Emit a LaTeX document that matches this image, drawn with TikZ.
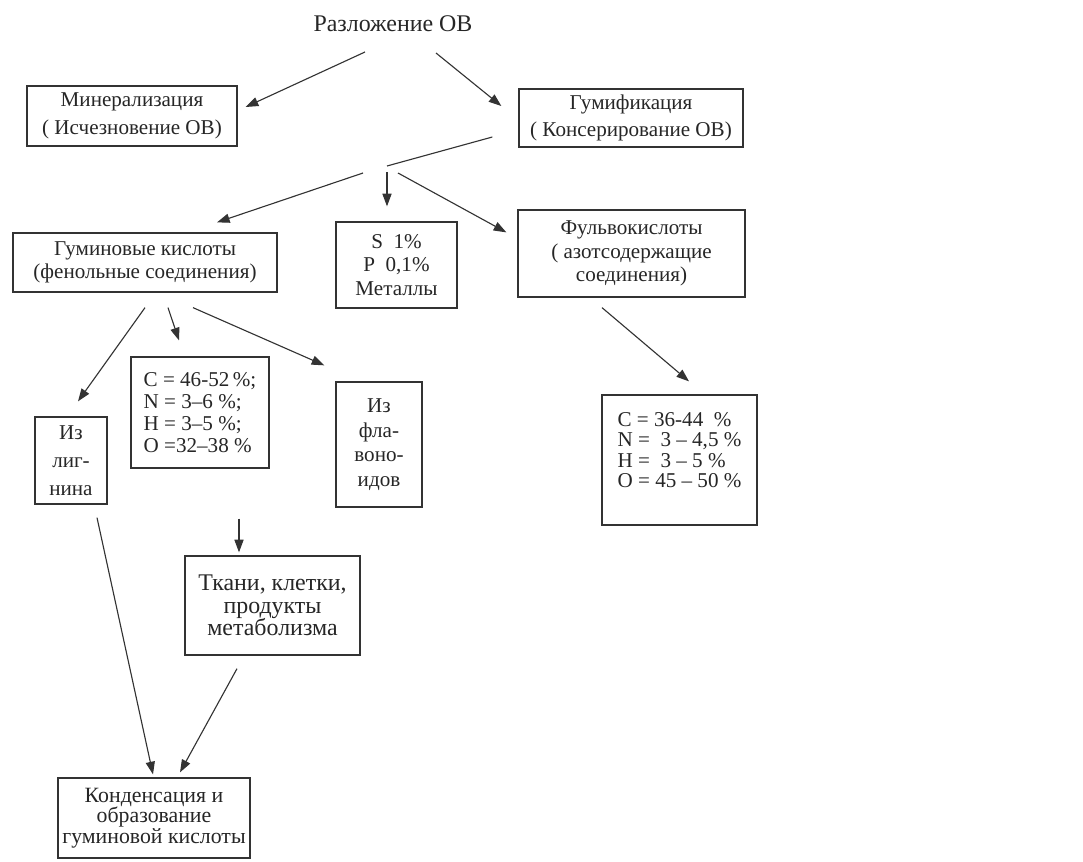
\documentclass[tikz,border=0pt]{standalone}
\usepackage{fontspec}
\setmainfont{Liberation Serif}
\usetikzlibrary{arrows.meta}

\tikzset{
	box/.style={draw=black!80, line width=0.9pt, rectangle, align=center, inner sep=0pt, text=black!85},
	arr/.style={draw=black!80, line width=0.8pt, -{Triangle[length=9pt,width=6.5pt]}},
	lnk/.style={draw=black!80, line width=0.8pt},
	txt/.style 2 args={font=\fontsize{#1}{#2}\selectfont}
}

\begin{document}
\begin{tikzpicture}[x=0.025cm, y=-0.025cm]
	\useasboundingbox (0,0) rectangle (1083,861);

	% Top level
	\node[txt={17pt}{20pt}, text=black!85, inner sep=0pt] (ttl) at (393,24) {Разложение ОВ};
	\node[box, txt={15pt}{20pt}, minimum width=5.25cm, minimum height=1.5cm] (mineral) at (132,116) {Минерализация\\( Исчезновение ОВ)};
	\node[box, txt={15pt}{19pt}, minimum width=5.6cm, minimum height=1.45cm] (humif) at (631,118) {Гумификация\\( Консерирование ОВ)};

	\draw[arr] ([shift={(-28,28)}]ttl.center) -- ([shift={(8,-9)}]mineral.east);
	\draw[arr] ([shift={(43,29)}]ttl.center) -- ([shift={(-17,-12)}]humif.west);

	% Products of humification
	\coordinate (fork) at (387,166);
	\node[box, txt={15pt}{16pt}, minimum width=6.6cm, minimum height=1.475cm] (humic) at (145,262.5) {Гуминовые кислоты\\(фенольные соединения)};
	\node[box, txt={15pt}{17pt}, minimum width=3.025cm, minimum height=2.15cm] (sulf) at (396.5,265) {S~~1\%\\P~~0,1\%\\Металлы};
	\node[box, txt={15pt}{16.5pt}, minimum width=5.675cm, minimum height=2.175cm] (fulvic) at (631.5,253.5) {Фульвокислоты\\( азотсодержащие\\соединения)};

	\draw[lnk] ([shift={(-26,19)}]humif.west) -- (fork);
	\draw[arr] ([shift={(-24,7)}]fork) -- ([shift={(72,-10)}]humic.north);
	\draw[arr] ([shift={(0,6)}]fork) -- ([shift={(-9.5,-15)}]sulf.north);
	\draw[arr] ([shift={(11,7)}]fork) -- ([shift={(-11,23)}]fulvic.north west);

	% Humic acids: origin and composition
	\node[box, txt={15pt}{20pt}, minimum width=1.8cm, minimum height=2.175cm] (lignin) at (71,460.5) {Из\\лиг-\\нина};
	\node[box, txt={15pt}{15.5pt}, align=left, minimum width=3.45cm, minimum height=2.775cm] (humcomp) at (200,412.5) {C = 46-52\,\%;\\N = 3–6 \%;\\H = 3–5 \%;\\O =32–38 \%};
	\node[box, txt={15pt}{17.5pt}, minimum width=2.15cm, minimum height=3.125cm] (flavon) at (379,444.5) {Из\\фла-\\воно-\\идов};

	\draw[arr] ([shift={(0,15)}]humic.south) -- ([shift={(7,-15)}]lignin.north);
	\draw[arr] ([shift={(23,15)}]humic.south) -- ([shift={(-21,-16)}]humcomp.north);
	\draw[arr] ([shift={(48,15)}]humic.south) -- ([shift={(-11,-16)}]flavon.north west);

	% Fulvic acids: composition
	\node[box, txt={15pt}{14.5pt}, align=left, minimum width=3.875cm, minimum height=3.25cm] (fulvcomp) at (679.5,460) {C = 36-44~~\%\\N =~~3 – 4,5 \%\\H =~~3 – 5 \%\\O = 45 – 50 \%\\\mbox{}};
	\draw[arr] ([shift={(-29.5,10)}]fulvic.south) -- ([shift={(9.5,-13)}]fulvcomp.north);

	% Condensation
	\node[box, txt={17pt}{16pt}, minimum width=4.375cm, minimum height=2.475cm] (tissue) at (272.5,605.5) {Ткани, клетки,\\продукты\\метаболизма};
	\node[box, txt={15.5pt}{14.5pt}, minimum width=4.8cm, minimum height=2cm] (condens) at (154,818) {Конденсация и\\образование\\гуминовой кислоты};

	\draw[arr] ([shift={(39,50)}]humcomp.south) -- ([shift={(-33.5,-3)}]tissue.north);
	\draw[arr] ([shift={(26,13)}]lignin.south) -- ([shift={(-1,-3)}]condens.north);
	\draw[arr] ([shift={(-35.5,13)}]tissue.south) -- ([shift={(26,-5)}]condens.north);
\end{tikzpicture}
\end{document}
